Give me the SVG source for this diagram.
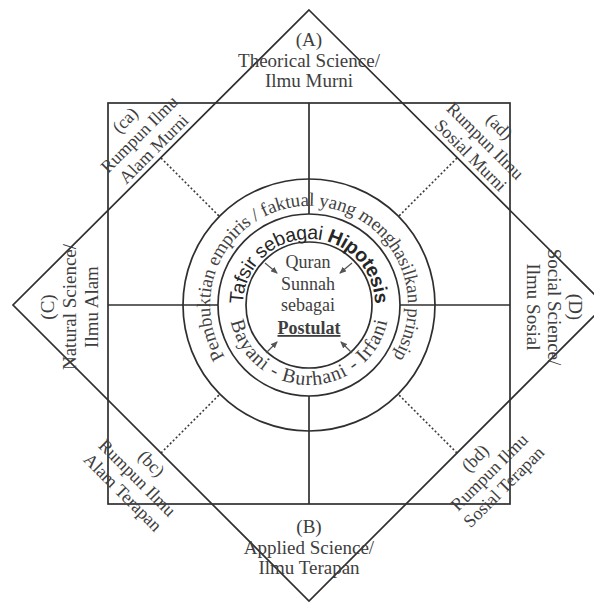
<svg xmlns="http://www.w3.org/2000/svg" width="594" height="604" viewBox="0 0 594 604">
<style>
.ln{fill:none;stroke:#2f2f2f;stroke-width:1.7}
.dot{fill:none;stroke:#3a3a3a;stroke-width:1.6;stroke-dasharray:2 2.2}
.t{font-family:"Liberation Serif","Times New Roman",serif;font-size:19px;fill:#3e3e3e;text-anchor:middle}
.tc{font-family:"Liberation Serif","Times New Roman",serif;font-size:18px;fill:#3e3e3e;text-anchor:middle}
.ts{font-family:"Liberation Sans",Arial,sans-serif;font-size:19.5px;fill:#262626}
.arr{fill:none;stroke:#555;stroke-width:1.2}
</style>
<defs>
<marker id="ah" markerWidth="7" markerHeight="6" refX="6" refY="3" orient="auto" markerUnits="userSpaceOnUse">
<path d="M0,0 L7,3 L0,6 z" fill="#555"/>
</marker>
<path id="pOuter" d="M233.2,368.6 A99,99 0 1 1 384.8,368.6"/>
<path id="pMidTop" d="M243.25,310.75 A66,66 0 1 1 374.75,310.75"/>
<path id="pMidBot" d="M229.3,312 A80,80 0 0 0 388.7,312"/>
</defs>
<rect width="594" height="604" fill="#fff"/>

<g id="diamond"><polygon class="ln" points="309,10 605,305 309,601 13,305"/></g>
<g id="square"><rect class="ln" x="108" y="103" width="402" height="401"/></g>
<g id="circle-outer"><circle class="ln" cx="309" cy="305" r="126"/></g>
<g id="circle-middle"><circle class="ln" cx="309" cy="305" r="91"/></g>
<g id="circle-inner"><circle class="ln" cx="309" cy="305" r="63"/></g>

<g id="connectors">
<line class="ln" x1="108" y1="305" x2="218" y2="305"/>
<line class="ln" x1="400" y1="305" x2="510" y2="305"/>
<line class="ln" x1="309" y1="103" x2="309" y2="214"/>
<line class="ln" x1="309" y1="396" x2="309" y2="504"/>
<line class="dot" x1="161" y1="158" x2="220" y2="217"/>
<line class="dot" x1="457" y1="158" x2="398" y2="217"/>
<line class="dot" x1="161" y1="453" x2="220" y2="394"/>
<line class="dot" x1="457" y1="453" x2="398" y2="394"/>
<line class="arr" x1="265" y1="263" x2="277" y2="273" marker-end="url(#ah)"/>
<line class="arr" x1="352" y1="263" x2="340" y2="273" marker-end="url(#ah)"/>
<line class="arr" x1="266" y1="353" x2="277" y2="342" marker-end="url(#ah)"/>
<line class="arr" x1="352" y1="353" x2="341" y2="342" marker-end="url(#ah)"/>
</g>

<g id="node-A"><text class="t"><tspan x="309" y="46">(A)</tspan><tspan x="309" y="67">Theorical Science/</tspan><tspan x="309" y="87">Ilmu Murni</tspan></text></g>
<g id="node-B"><text class="t"><tspan x="309" y="533">(B)</tspan><tspan x="309" y="554">Applied Science/</tspan><tspan x="309" y="574">Ilmu Terapan</tspan></text></g>
<g id="node-C"><text class="t" transform="translate(54,307) rotate(-90)"><tspan x="0" y="0">(C)</tspan><tspan x="0" y="22">Natural Science/</tspan><tspan x="0" y="44">Ilmu Alam</tspan></text></g>
<g id="node-D"><text class="t" transform="translate(569,307) rotate(90)"><tspan x="0" y="0">(D)</tspan><tspan x="0" y="21">Social Science/</tspan><tspan x="0" y="42">Ilmu Sosial</tspan></text></g>

<g id="node-ca"><text class="tc" transform="translate(143.5,138.5) rotate(-45)"><tspan x="0" y="-20">(ca)</tspan><tspan x="0" y="0">Rumpun Ilmu</tspan><tspan x="0" y="20.5">Alam Murni</tspan></text></g>
<g id="node-ad"><text class="tc" transform="translate(481,145) rotate(45)"><tspan x="0" y="-20">(ad)</tspan><tspan x="0" y="0">Rumpun Ilmu</tspan><tspan x="0" y="20.5">Sosial Murni</tspan></text></g>
<g id="node-bc"><text class="tc" transform="translate(133,482) rotate(45)"><tspan x="0" y="-20">(bc)</tspan><tspan x="0" y="0">Rumpun Ilmu</tspan><tspan x="0" y="20.5">Alam Terapan</tspan></text></g>
<g id="node-bd"><text class="tc" transform="translate(493.5,476.5) rotate(-45)"><tspan x="0" y="-20">(bd)</tspan><tspan x="0" y="0">Rumpun Ilmu</tspan><tspan x="0" y="20.5">Sosial Terapan</tspan></text></g>

<g id="ring-outer-text"><text style="font-family:'Liberation Serif','Times New Roman',serif;font-size:19px;fill:#444"><textPath href="#pOuter" startOffset="50%" text-anchor="middle" textLength="420" lengthAdjust="spacing">Pembuktian empiris / faktual yang menghasilkan prinsip</textPath></text></g>
<g id="ring-middle-top"><text class="ts"><textPath href="#pMidTop" startOffset="50%" text-anchor="middle" textLength="205" lengthAdjust="spacing">Tafsir sebagai <tspan font-weight="bold">Hipotesis</tspan></textPath></text></g>
<g id="ring-middle-bottom"><text style="font-family:'Liberation Serif','Times New Roman',serif;font-size:20px;fill:#3e3e3e"><textPath href="#pMidBot" startOffset="50%" text-anchor="middle" textLength="218" lengthAdjust="spacing">Bayani - Burhani - Irfani</textPath></text></g>

<g id="node-center"><text class="tc"><tspan x="308" y="268">Quran</tspan><tspan x="308" y="290">Sunnah</tspan><tspan x="308" y="311">sebagai</tspan><tspan x="309" y="334" font-weight="bold" text-decoration="underline">Postulat</tspan></text></g>
</svg>
